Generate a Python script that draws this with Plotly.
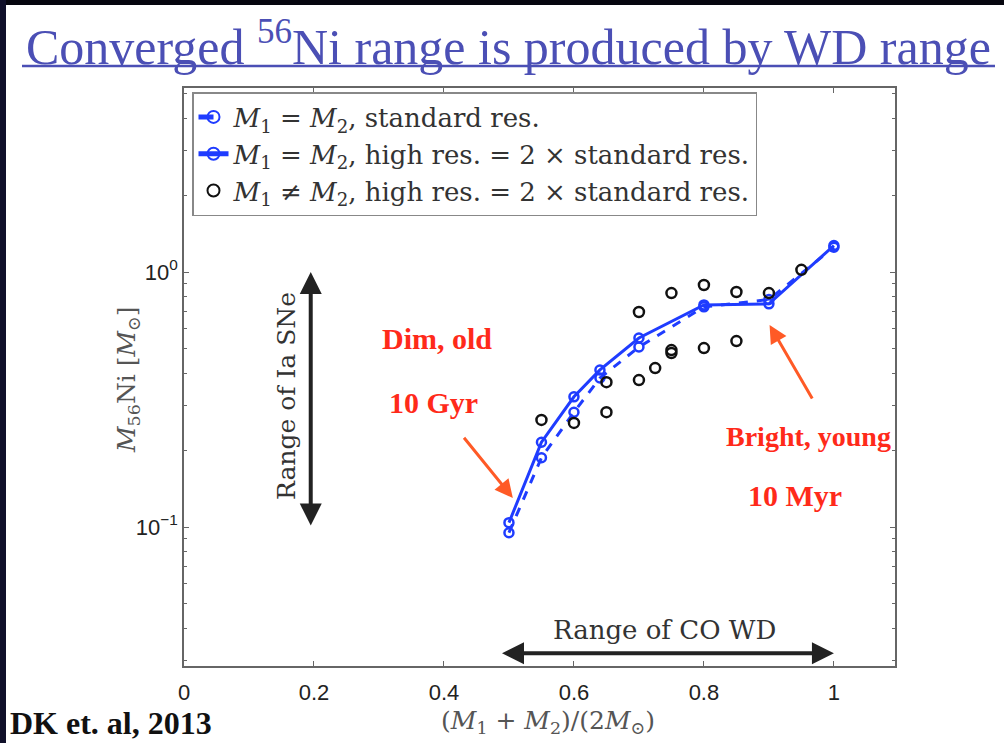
import math
import plotly.graph_objects as go

# ---- data ----
x_equal = [0.5, 0.55, 0.6, 0.64, 0.7, 0.8, 0.9, 1.0]
ni_std = [0.095, 0.187, 0.282, 0.384, 0.508, 0.73, 0.78, 1.25]
ni_high = [0.104, 0.215, 0.324, 0.413, 0.551, 0.743, 0.75, 1.27]

x_unequal = [0.55, 0.6, 0.65, 0.65, 0.7, 0.7, 0.725, 0.75, 0.75, 0.75, 0.8, 0.8, 0.85, 0.85, 0.9, 0.95]
ni_unequal = [0.263, 0.256, 0.37, 0.282, 0.377, 0.697, 0.42, 0.494, 0.481, 0.827, 0.889, 0.503, 0.835, 0.536, 0.827, 1.02]

x_ticks = [0, 0.2, 0.4, 0.6, 0.8, 1.0]
x_ticktext = ["0", "0.2", "0.4", "0.6", "0.8", "1"]
y_ticks = [0.1, 1.0]
y_ticktext = ["10<sup>\u22121</sup>", "10<sup>0</sup>"]
y_minor = [0.03, 0.04, 0.05, 0.06, 0.07, 0.08, 0.09, 0.2, 0.3, 0.4, 0.5, 0.6, 0.7, 0.8, 0.9, 2, 3, 4, 5]

BLUE = "#1f3cff"
SERIF = "Liberation Serif"
MATH = "DejaVu Serif"
SANS = "Liberation Sans"
AXC = "#666666"

L, R, T, B = 184, 895, 88, 666


def px(xp):
    return (xp - L) / (R - L)


def py(yp):
    return (B - yp) / (B - T)


fig = go.Figure()
fig.add_trace(go.Scatter(
    x=x_equal, y=ni_std, mode="lines+markers",
    name="<i>M</i><sub>1</sub> = <i>M</i><sub>2</sub>, standard res.",
    line=dict(color=BLUE, width=3, dash="dash"),
    marker=dict(symbol="circle-open", size=9, color=BLUE, line=dict(width=2.5, color=BLUE)),
))
fig.add_trace(go.Scatter(
    x=x_equal, y=ni_high, mode="lines+markers",
    name="<i>M</i><sub>1</sub> = <i>M</i><sub>2</sub>, high res. = 2 \u00d7 standard res.",
    line=dict(color=BLUE, width=3),
    marker=dict(symbol="circle-open", size=9, color=BLUE, line=dict(width=2.5, color=BLUE)),
))
fig.add_trace(go.Scatter(
    x=x_unequal, y=ni_unequal, mode="markers",
    name="<i>M</i><sub>1</sub> \u2260 <i>M</i><sub>2</sub>, high res. = 2 \u00d7 standard res.",
    marker=dict(symbol="circle-open", size=10, color="#111111", line=dict(width=2.5, color="#111111")),
))

ann = []


def text(t, xp, yp, size, color, family=SERIF, angle=0, xanchor="center"):
    ann.append(dict(text=t, xref="paper", yref="paper", x=px(xp), y=py(yp), showarrow=False,
                    xanchor=xanchor, yanchor="middle", textangle=angle,
                    font=dict(family=family, size=size, color=color)))


# title
text("Converged <sup>56</sup>Ni range is produced by WD range", 508, 44, 50, "#4b4fb5")
# red labels
RED = "#ff2a1a"
text("<b>Dim, old</b>", 437, 338, 30, RED)
text("<b>10 Gyr</b>", 433, 402, 30, RED)
text("<b>Bright, young</b>", 808, 436, 28, RED)
text("<b>10 Myr</b>", 795, 495, 30, RED)
# orange arrows
for (x0, y0, x1, y1) in [(0.429, 0.227, 0.506, 0.13), (0.968, 0.315, 0.901, 0.62)]:
    ann.append(dict(x=x1, y=math.log10(y1), ax=x0, ay=math.log10(y0),
                    xref="x", yref="y", axref="x", ayref="y", text="", showarrow=True,
                    arrowhead=2, arrowsize=1.2, arrowwidth=3, arrowcolor="#ff5a26"))
# range arrows
ann.append(dict(x=0.195, y=math.log10(1.0), ax=0.195, ay=math.log10(0.1), xref="x", yref="y",
                axref="x", ayref="y", text="", showarrow=True, arrowhead=2, startarrowhead=2,
                arrowside="end+start", arrowsize=1.1, arrowwidth=4, arrowcolor="#222222"))
ann.append(dict(x=1.0, y=math.log10(0.032), ax=0.487, ay=math.log10(0.032), xref="x", yref="y",
                axref="x", ayref="y", text="", showarrow=True, arrowhead=2, startarrowhead=2,
                arrowside="end+start", arrowsize=1.1, arrowwidth=4, arrowcolor="#222222"))
text("Range of Ia SNe", 287, 396, 25, "#333333", family=MATH, angle=-90)
text("Range of CO WD", 664, 630, 26, "#333333", family=MATH)
# axis titles
text("(<i>M</i><sub>1</sub> + <i>M</i><sub>2</sub>)/(2<i>M</i><sub>\u2299</sub>)", 548, 722, 25, "#555555", family=MATH)
text("<i>M</i><sub>56</sub>Ni [<i>M</i><sub>\u2299</sub>]", 128, 380, 25, "#555555", family=MATH, angle=-90)
# citation
text("<b>DK et. al, 2013</b>", 8, 723, 32, "#111111", xanchor="left")

shapes = [
    dict(type="line", xref="paper", yref="paper", x0=px(22), x1=px(995),
         y0=py(66), y1=py(66), line=dict(color="#4b4fb5", width=2.5)),
    dict(type="rect", xref="paper", yref="paper", x0=px(-5), x1=px(1010),
         y0=py(5), y1=py(-10), fillcolor="#06060f", line=dict(width=0), layer="above"),
    dict(type="rect", xref="paper", yref="paper", x0=px(-10), x1=px(6),
         y0=py(760), y1=py(-10), fillcolor="#10102a", line=dict(width=0), layer="above"),
]

fig.update_layout(
    width=1004, height=743,
    margin=dict(l=L, r=1004 - R, t=T, b=743 - B),
    paper_bgcolor="white", plot_bgcolor="white",
    showlegend=True,
    legend=dict(x=px(192), y=py(92), xanchor="left", yanchor="top",
                bgcolor="white", bordercolor="#888888", borderwidth=1.5,
                font=dict(family=MATH, size=26, color="#333333"),
                tracegroupgap=0, itemsizing="constant"),
    annotations=ann, shapes=shapes,
    xaxis=dict(range=[0, 1.094], tickvals=x_ticks, ticktext=x_ticktext, ticks="inside", ticklen=5,
               tickcolor=AXC, showline=True, linecolor=AXC, linewidth=1.5, mirror="ticks",
               showgrid=False, zeroline=False, ticklabelstandoff=6,
               tickfont=dict(family=SANS, size=22, color="#222222")),
    yaxis=dict(type="log", range=[-1.545, 0.7216], tickvals=y_ticks, ticktext=y_ticktext,
               ticks="inside", ticklen=5, tickcolor=AXC, showline=True, linecolor=AXC, linewidth=1.5,
               mirror="ticks", showgrid=False, zeroline=False,
               tickfont=dict(family=SANS, size=22, color="#222222"),
               minor=dict(tickvals=y_minor, ticks="inside", ticklen=3, tickcolor=AXC, showgrid=False)),
)

fig.write_html("out.html")
